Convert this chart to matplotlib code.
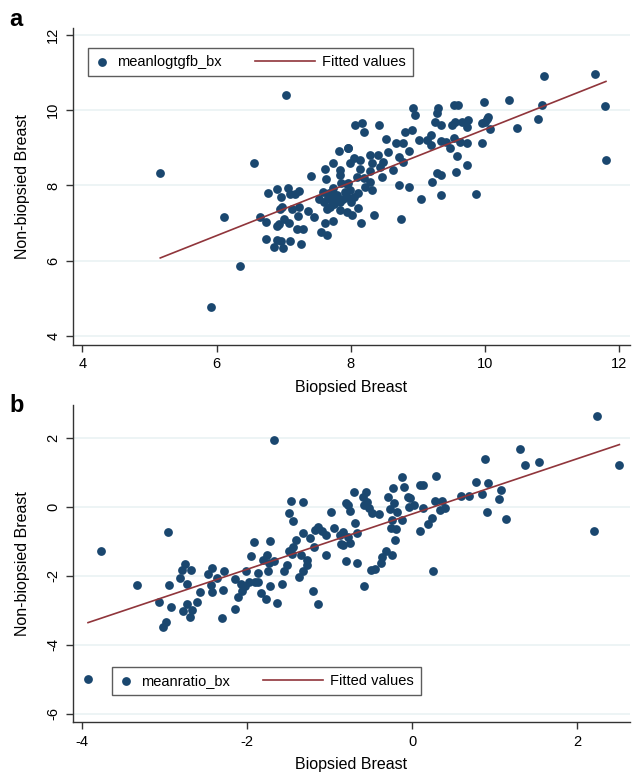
import numpy as np
import matplotlib
matplotlib.use("Agg")
import matplotlib.pyplot as plt
from matplotlib.legend_handler import HandlerLine2D

plt.rcParams["font.family"] = ["Liberation Sans", "DejaVu Sans"]
plt.rcParams["axes.unicode_minus"] = False

# === Panel a: mean log TGF-b ===
a_x = [5.16, 7.03, 6.56, 6.11, 6.35, 5.91, 7.40, 6.76, 6.90, 6.96, 7.06, 7.09, 7.16, 7.23,
       6.97, 6.95, 7.12, 7.23, 6.65, 6.73, 7.21, 7.36, 7.45, 7.01, 7.08, 6.93, 6.90, 7.20,
       7.28, 6.73, 6.90, 6.96, 7.10, 6.85, 6.99, 7.25, 7.62, 7.63, 7.73, 7.83, 7.95, 7.84,
       7.84, 7.52, 7.59, 7.66, 7.74, 7.79, 7.69, 7.84, 7.91, 7.73, 7.64, 7.84, 7.94, 7.61,
       7.74, 7.55, 7.64, 7.94, 7.98, 8.93, 8.95, 9.30, 9.29, 9.53, 9.60, 9.99, 8.06, 8.16,
       8.20, 8.42, 8.81, 8.91, 8.53, 8.67, 8.77, 8.87, 9.01, 9.13, 9.19, 9.19, 9.25, 9.35,
       9.34, 9.42, 9.48, 9.50, 9.55, 9.65, 9.74, 9.73, 9.53, 9.63, 9.73, 9.58, 9.73, 9.57,
       9.95, 10.03, 9.95, 7.96, 8.05, 8.14, 8.29, 8.41, 8.32, 8.48, 8.56, 8.44, 8.63, 8.72,
       8.77, 8.14, 8.29, 8.09, 8.19, 8.46, 8.29, 7.86, 7.96, 7.99, 7.94, 8.04, 8.21, 8.31,
       8.11, 8.01, 8.34, 8.15, 8.75, 8.71, 8.86, 9.04, 9.21, 9.28, 9.35, 9.35, 9.87, 10.88,
       11.64, 10.35, 10.84, 11.79, 10.05, 10.00, 10.07, 10.47, 10.79, 11.80, 7.70, 7.80,
       7.60, 7.75, 7.88, 8.00, 7.68, 8.10]
a_y = [8.33, 10.41, 8.61, 7.15, 5.86, 4.77, 8.26, 7.81, 7.90, 7.68, 7.94, 7.78, 7.78, 7.85,
       7.43, 7.37, 7.38, 7.43, 7.17, 7.03, 7.20, 7.32, 7.17, 7.11, 7.01, 6.97, 6.92, 6.85,
       6.83, 6.58, 6.56, 6.51, 6.52, 6.35, 6.34, 6.44, 8.43, 8.16, 8.59, 8.92, 9.00, 8.41,
       8.27, 7.63, 7.83, 7.70, 7.79, 7.66, 7.43, 7.57, 7.83, 7.92, 7.36, 7.35, 7.30, 6.99,
       7.05, 6.77, 6.68, 8.03, 8.59, 10.07, 9.87, 10.05, 9.92, 10.14, 10.14, 10.22, 9.62, 9.65,
       9.43, 9.62, 9.43, 9.47, 9.23, 9.12, 9.12, 8.92, 9.21, 9.21, 9.34, 9.07, 9.69, 9.61,
       9.18, 9.16, 8.99, 9.61, 9.69, 9.69, 9.74, 9.56, 9.25, 9.16, 9.12, 8.78, 8.54, 8.36,
       9.65, 9.76, 9.12, 8.99, 8.72, 8.68, 8.81, 8.81, 8.59, 8.63, 8.90, 8.50, 8.41, 8.75,
       8.63, 8.45, 8.39, 8.23, 8.19, 8.23, 8.10, 8.06, 8.06, 7.88, 7.70, 7.70, 7.97, 7.88,
       7.39, 7.21, 7.21, 6.99, 7.10, 8.00, 7.95, 7.63, 8.10, 8.32, 8.28, 7.75, 7.76, 10.92,
       10.96, 10.27, 10.14, 10.12, 9.83, 9.69, 9.49, 9.52, 9.76, 8.68, 7.60, 7.75,
       7.55, 7.50, 7.65, 7.55, 7.80, 7.80]

# === Panel b: mean ratio ===
b_x = [-1.68, -3.77, -3.93, -3.34, -2.96, -3.07, -3.02, -2.98, -2.95, -2.92, -2.82, -2.79,
       -2.75, -2.68, -2.73, -2.78, -2.73, -2.67, -2.69, -2.61, -2.57, -2.47, -2.43, -2.44,
       -2.43, -2.37, -2.31, -2.28, -2.30, -2.15, -2.15, -2.11, -2.06, -2.08, -2.03, -2.01,
       -1.98, -1.91, -1.87, -1.87, -1.96, -1.92, -1.83, -1.77, -1.72, -1.75, -1.74, -1.73,
       -1.81, -1.76, -1.68, -1.64, -1.58, -1.55, -1.52, -1.50, -1.44, -1.46, -1.50, -1.47,
       -1.45, -1.32, -1.33, -1.41, -1.35, -1.27, -1.27, -1.33, -1.37, -1.20, -1.14, -1.24,
       -1.19, -1.18, -1.14, -1.10, -1.05, -1.05, -0.99, -0.95, -0.87, -0.80, -0.80, -0.71,
       -0.56, -0.60, -0.78, -0.76, -0.55, -0.59, -0.53, -0.49, -0.40, -0.29, -0.23, -0.12,
       -0.10, -0.22, -0.27, -0.19, -0.05, -0.04, 0.02, 0.09, -0.12, -0.25, -0.26, -0.20,
       -0.21, -0.32, -0.25, -0.37, -0.38, -0.45, -0.50, -0.69, -0.67, -0.67, -0.59, -0.78,
       -0.84, 2.24, 2.51, 2.20, 1.30, 1.37, 1.53, 0.88, 0.77, 0.92, 1.08, 1.05, 0.85, 0.69,
       0.59, 0.90, 1.14, 0.29, 0.13, 0.28, 0.36, 0.33, 0.40, 0.13, -0.03, 0.24, 0.19, 0.09,
       0.25, -0.88, -0.84, -0.76]
b_y = [1.94, -1.28, -4.99, -2.28, -0.74, -2.76, -3.48, -3.35, -2.28, -2.90, -2.08, -1.85,
       -1.66, -1.85, -2.24, -3.03, -2.82, -3.01, -3.19, -2.76, -2.48, -1.96, -1.79, -2.28,
       -2.46, -2.08, -3.23, -1.86, -2.42, -2.10, -2.97, -2.61, -2.44, -2.24, -2.30, -1.88,
       -2.17, -2.19, -2.17, -1.93, -1.43, -1.03, -2.51, -2.68, -2.29, -1.88, -1.64, -1.01,
       -1.54, -1.40, -1.57, -2.80, -2.24, -1.87, -1.69, -1.30, -1.16, -1.37, -0.19, 0.17,
       -0.41, 0.13, -0.77, -0.98, -1.40, -1.54, -1.69, -1.88, -2.03, -2.45, -2.81, -0.92,
       -1.16, -0.68, -0.58, -0.72, -0.82, -1.40, -0.17, -0.63, -1.08, 0.10, -1.59, 0.42,
       0.43, 0.29, 0.05, -0.14, 0.14, 0.05, -0.05, -0.19, -0.21, 0.27, 0.53, 0.85,
       0.56, 0.10, -0.08, -0.17, 0.27, 0.00, 0.04, 0.62, -0.39, -0.39, -0.63, -0.66,
       -0.98, -1.28, -1.40, -1.47, -1.64, -1.81, -1.85, -0.48, -0.75, -1.62, -2.31, -0.87,
       -1.11, 2.63, 1.22, -0.72, 1.66, 1.22, 1.29, 1.37, 0.72, 0.69, 0.49, 0.23, 0.36, 0.31,
       0.31, -0.15, -0.37, 0.90, 0.64, 0.17, 0.17, -0.10, -0.05, -0.05, 0.26, -0.34, -0.51, -0.70,
       -1.88, -0.82, -0.74, -1.06]

NAVY = "#1a476f"
MAROON = "#90353b"
GRID = "#eaf2f3"


class LongLine(HandlerLine2D):
    # stretch the fitted-line key to the left, into the column gap (Stata look)
    def create_artists(self, legend, orig_handle, xdescent, ydescent, width, height,
                       fontsize, trans):
        ext = 3.1 * fontsize
        return super().create_artists(legend, orig_handle, xdescent + ext, ydescent,
                                      width + ext, height, fontsize, trans)


def draw_panel(ax, x, y, name, xticks, yticks, xlim, ylim, leg_anchor):
    x = np.asarray(x)
    y = np.asarray(y)
    slope, icept = np.polyfit(x, y, 1)
    xs = np.array([x.min(), x.max()])

    ax.scatter(x, y, s=40, color=NAVY, linewidths=0, zorder=3, label=name)
    fit, = ax.plot(xs, icept + slope * xs, color=MAROON, lw=1.2, zorder=4,
                   label="Fitted values")

    ax.set_xlim(*xlim)
    ax.set_ylim(*ylim)
    ax.set_xticks(xticks)
    ax.set_yticks(yticks)
    ax.yaxis.grid(True, color=GRID, lw=1.2, zorder=0)
    ax.set_axisbelow(True)
    for s in ("top", "right"):
        ax.spines[s].set_visible(False)
    for s in ("left", "bottom"):
        ax.spines[s].set_color("#333333")
        ax.spines[s].set_linewidth(1.0)
    ax.tick_params(direction="out", length=5, width=1.0, color="#333333",
                   labelsize=10.5, pad=4)
    ax.tick_params(axis="y", labelrotation=90)
    for lab in ax.get_yticklabels():
        lab.set_va("center")
    ax.set_xlabel("Biopsied Breast", fontsize=11.5, labelpad=6)
    ax.set_ylabel("Non-biopsied Breast", fontsize=11.5, labelpad=12)

    leg = ax.legend(loc="upper left", bbox_to_anchor=leg_anchor, ncol=2, frameon=True,
                    fancybox=False, edgecolor="#333333", fontsize=10.5, borderaxespad=0,
                    handlelength=1.0, columnspacing=5.4, handletextpad=0.5,
                    borderpad=0.5, scatterpoints=1, markerscale=1.0,
                    handler_map={fit: LongLine()})
    leg.get_frame().set_linewidth(1.0)


fig = plt.figure(figsize=(6.32, 7.77), dpi=100)
ax_a = fig.add_axes([0.115, 0.556, 0.882, 0.408])
ax_b = fig.add_axes([0.115, 0.0704, 0.882, 0.4086])

draw_panel(ax_a, a_x, a_y, "meanlogtgfb_bx", [4, 6, 8, 10, 12], [4, 6, 8, 10, 12],
           (3.855, 12.16), (3.755, 12.19), (0.027, 0.938))
draw_panel(ax_b, b_x, b_y, "meanratio_bx", [-4, -2, 0, 2], [-6, -4, -2, 0, 2],
           (-4.116, 2.64), (-6.25, 2.95), (0.070, 0.175))

fig.text(0.015, 0.975, "a", fontsize=17, fontweight="bold", va="center")
fig.text(0.015, 0.478, "b", fontsize=17, fontweight="bold", va="center")

fig.savefig("out.png", dpi=100)
